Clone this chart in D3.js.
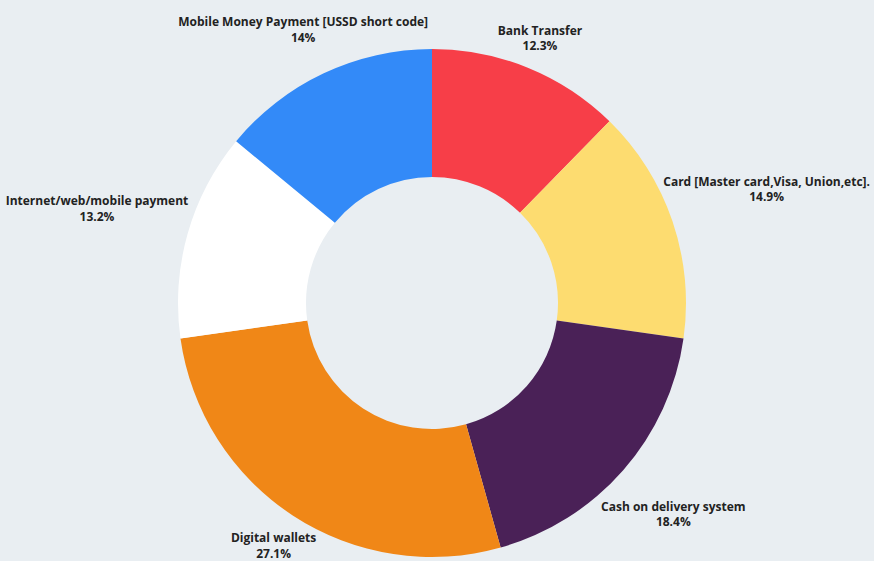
<!DOCTYPE html>
<html>
<head>
<meta charset="utf-8">
<script src="https://cdn.jsdelivr.net/npm/d3@7/dist/d3.min.js"></script>
<style>
  html, body { margin: 0; padding: 0; background: #e9eef2; }
  svg { display: block; }
  text { font-family: "Open Sans", "Noto Sans", sans-serif; font-weight: 700; font-size: 12px; fill: #222; }
</style>
</head>
<body>
<svg id="chart" width="874" height="561"></svg>
<script>
// Payment methods and their shares (%)
const categories = [
  "Bank Transfer",
  "Card [Master card,Visa, Union,etc].",
  "Cash on delivery system",
  "Digital wallets",
  "Internet/web/mobile payment",
  "Mobile Money Payment [USSD short code]"
];
const shares = [12.3, 14.9, 18.4, 27.1, 13.2, 14];
const valueLabels = ["12.3%", "14.9%", "18.4%", "27.1%", "13.2%", "14%"];
const colors = ["#f73e48", "#fddc70", "#4a2157", "#f08717", "#ffffff", "#338af8"];

const width = 874, height = 561;
const cx = 432, cy = 303;
const outerR = 254, innerR = 126;

const svg = d3.select("#chart");
const data = categories.map((c, i) => ({ name: c, value: shares[i], label: valueLabels[i], color: colors[i] }));

const pie = d3.pie().value(d => d.value).sort(null);
const arc = d3.arc().innerRadius(innerR).outerRadius(outerR);
const arcs = pie(data);

const g = svg.append("g").attr("transform", `translate(${cx},${cy})`);

g.selectAll("path.slice")
  .data(arcs)
  .join("path")
  .attr("class", "slice")
  .attr("d", arc)
  .attr("fill", d => d.data.color);

// Labels: two centred lines placed just outside the ring along each slice's mid-angle.
// When a label would leave the drawing area it is pulled back along the same ray.
const lineGap = 15.5;
const bounds = { left: 4, right: 870, top: 14, bottom: 561 };
const labels = svg.selectAll("g.label")
  .data(arcs)
  .join("g")
  .attr("class", "label");

labels.append("text").attr("class", "name").attr("text-anchor", "middle")
  .attr("dominant-baseline", "central").text(d => d.data.name);
labels.append("text").attr("class", "val").attr("text-anchor", "middle")
  .attr("dominant-baseline", "central").text(d => d.data.label);

labels.each(function(d) {
  const sel = d3.select(this);
  const w = Math.max(sel.select(".name").node().getComputedTextLength(),
                     sel.select(".val").node().getComputedTextLength());
  const h = lineGap * 2;
  const a = (d.startAngle + d.endAngle) / 2;
  const ux = Math.sin(a), uy = -Math.cos(a);
  const support = Math.abs(ux) * w / 2 + Math.abs(uy) * h / 2;
  let dist = outerR + 2 + support;
  if (ux > 0) dist = Math.min(dist, (bounds.right - w / 2 - cx) / ux);
  if (ux < 0) dist = Math.min(dist, (cx - bounds.left - w / 2) / -ux);
  if (uy < 0) dist = Math.min(dist, (cy - bounds.top - h / 2) / -uy);
  if (uy > 0) dist = Math.min(dist, (bounds.bottom - h / 2 - cy) / uy);
  const x = cx + ux * dist, y = cy + uy * dist;
  sel.select(".name").attr("x", x).attr("y", y - lineGap / 2);
  sel.select(".val").attr("x", x).attr("y", y + lineGap / 2);
});
</script>
</body>
</html>
